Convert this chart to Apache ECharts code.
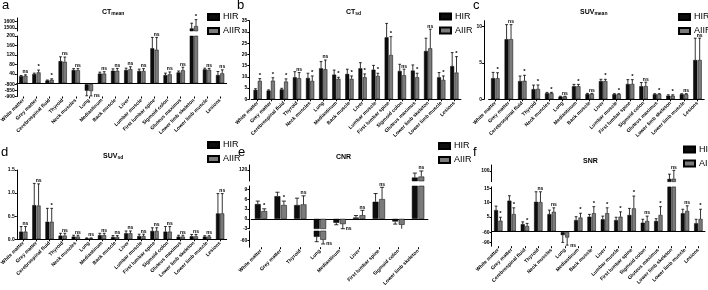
<!DOCTYPE html>
<html>
<head>
<meta charset="utf-8">
<script src="https://cdn.jsdelivr.net/npm/echarts@6.0.0/dist/echarts.min.js"></script>
<style>
  html, body { margin: 0; padding: 0; background: #fff; }
  #chart { width: 708px; height: 290px; }
</style>
</head>
<body>
<div id="chart"></div>
<script>
// categories
const organs = ['White matter', 'Grey matter', 'Cerebrospinal fluid', 'Thyroid', 'Neck muscles', 'Lung',
  'Mediastinum', 'Back muscle', 'Liver', 'Lumbar muscle', 'First lumbar spine', 'Sigmoid colon',
  'Gluteus maximus', 'Lower limb skeleton', 'Lower limb muscle', 'Lesions'];
const cnrOrgans = ['White matter', 'Grey matter', 'Thyroid', 'Lung', 'Mediastinum', 'Liver',
  'First lumbar spine', 'Sigmoid colon', 'Lower limb skeleton'];

// a - CT mean
const ctMeanHIR = [30, 39, 12, 94, 56, -852, 41, 53, 56, 52, 148, 35, 46, 1490, 59, 35];
const ctMeanHIRErr = [3, 4, 2, 18, 6, 42, 6, 8, 8, 8, 46, 8, 6, 80, 5, 15];
const ctMeanAIIR = [32, 46, 15, 91, 55, -855, 41, 53, 60, 52, 142, 38, 55, 1525, 57, 42];
const ctMeanAIIRErr = [4, 10, 4, 20, 7, 40, 8, 10, 10, 10, 52, 10, 13, 100, 6, 15];
const ctMeanSig = ['ns', '*', '*', 'ns', 'ns', 'ns', 'ns', 'ns', 'ns', 'ns', 'ns', 'ns', 'ns', '*', 'ns', 'ns'];

// b - CT sd
const ctSdHIR = [4.2, 3.9, 4.4, 9.8, 9.5, 13.8, 11.0, 11.3, 13.8, 13.2, 27.6, 12.6, 12.8, 21.5, 9.8, 14.8];
const ctSdHIRErr = [0.5, 0.3, 0.5, 2.5, 2.1, 3.0, 2.0, 2.1, 2.5, 1.9, 6.2, 3.0, 2.5, 5.7, 2.1, 6.0];
const ctSdAIIR = [8.2, 8.3, 7.9, 9.4, 8.2, 13.4, 9.1, 9.1, 9.8, 10.4, 19.7, 10.7, 9.8, 22.7, 8.6, 11.9];
const ctSdAIIRErr = [1.0, 1.3, 1.2, 2.5, 2.2, 4.1, 0.7, 1.3, 1.5, 1.2, 8.2, 2.7, 1.8, 8.5, 1.8, 7.1];
const ctSdSig = ['*', '*', '*', 'ns', '*', 'ns', '*', '*', '*', '*', '*', 'ns', '*', 'ns', '*', '*'];

// c - SUV mean
const suvMeanHIR = [2.9, 8.26, 2.5, 1.4, 0.83, 0.37, 1.8, 0.73, 2.5, 0.69, 2.1, 1.8, 0.69, 0.5, 0.69, 5.4];
const suvMeanHIRErr = [0.8, 2.0, 0.7, 0.55, 0.12, 0.05, 0.25, 0.08, 0.25, 0.08, 0.6, 0.5, 0.08, 0.12, 0.08, 3.0];
const suvMeanAIIR = [2.9, 8.26, 2.55, 1.42, 0.83, 0.37, 1.8, 0.73, 2.5, 0.69, 2.1, 1.8, 0.69, 0.5, 0.69, 5.4];
const suvMeanAIIRErr = [0.75, 2.0, 0.75, 0.55, 0.12, 0.05, 0.25, 0.08, 0.25, 0.08, 0.6, 0.55, 0.08, 0.12, 0.08, 3.0];
const suvMeanSig = ['*', 'ns', '*', '*', '*', 'ns', '*', 'ns', '*', '*', '*', 'ns', '*', '*', 'ns', 'ns'];

// d - SUV sd
const suvSdHIR = [0.166, 0.74, 0.38, 0.08, 0.058, 0.02, 0.09, 0.05, 0.13, 0.07, 0.18, 0.166, 0.058, 0.065, 0.058, 0.56];
const suvSdHIRErr = [0.11, 0.47, 0.29, 0.05, 0.03, 0.01, 0.04, 0.03, 0.05, 0.04, 0.07, 0.11, 0.03, 0.04, 0.02, 0.43];
const suvSdAIIR = [0.166, 0.73, 0.38, 0.08, 0.058, 0.02, 0.09, 0.05, 0.13, 0.07, 0.18, 0.166, 0.058, 0.065, 0.058, 0.56];
const suvSdAIIRErr = [0.11, 0.47, 0.29, 0.05, 0.03, 0.01, 0.04, 0.03, 0.05, 0.04, 0.07, 0.11, 0.03, 0.04, 0.02, 0.43];
const suvSdSig = ['ns', 'ns', '*', 'ns', 'ns', 'ns', 'ns', 'ns', 'ns', 'ns', 'ns', 'ns', 'ns', 'ns', 'ns', 'ns'];

// e - CNR
const cnrHIR = [4.5, 6.9, 4.2, -48, -1.2, 0.4, 5.2, -0.8, 65];
const cnrHIRErr = [0.9, 1.2, 2.1, 15, 0.6, 0.6, 2.5, 0.8, 32];
const cnrAIIR = [2.35, 4.2, 4.4, -57, -1.6, 1.1, 6.0, -1.8, 72];
const cnrAIIRErr = [0.7, 1.2, 2.6, 13, 1.4, 1.5, 3.6, 1.5, 40];
const cnrSig = ['*', '*', 'ns', 'ns', 'ns', 'ns', 'ns', 'ns', 'ns'];

// f - SNR
const snrHIR = [7.4, 10.7, 2.5, 10.3, 6.0, -68, 3.9, 5.1, 4.2, 3.9, 5.7, 3.0, 3.6, 52, 6.3, 2.8];
const snrHIRErr = [1.4, 1.7, 0.8, 3.5, 1.4, 21, 1.2, 0.8, 1.1, 1.0, 2.3, 1.2, 0.8, 28, 1.4, 1.4];
const snrAIIR = [3.7, 6.0, 1.85, 10.2, 6.8, -75, 4.8, 6.3, 6.3, 5.1, 8.0, 3.6, 5.7, 53, 7.1, 4.3];
const snrAIIRErr = [1.2, 2.2, 0.9, 3.6, 1.4, 22, 1.5, 2.3, 1.9, 1.7, 4.3, 1.7, 2.9, 50, 1.8, 3.4];
const snrSig = ['*', '*', '*', 'ns', 'ns', 'ns', '*', '*', '*', '*', '*', 'ns', '*', 'ns', 'ns', '*'];

// tick labels (broken axes get one list per segment)
const ctMeanTicksTop = [1500, 1600];
const ctMeanTicksMid = [40, 80, 120, 160, 200];
const ctMeanTicksNeg = [-800, -850, -900];
const ctSdTicks = [0, 5, 10, 15, 20, 25, 30, 35];
const suvMeanTicks = [0, 5, 10];
const suvSdTicks = [0, 0.5, 1, 1.5];
const cnrTicksTop = [90, 120, 150];
const cnrTicksMid = [-3, 0, 3, 6, 9];
const cnrTicksNeg = [-60];
const snrTicksTop = [75, 100, 125];
const snrTicksMid = [5, 10, 15];
const snrTicksNeg = [-60, -90];

const FONT = '"Liberation Sans", Arial, sans-serif';
const BAR_W = 0.3, BAR_GAP = 0.1;

const panels = [
  {
    letter: 'a', name: 'CT', sub: 'mean', cats: organs, left: 16.75, width: 209.9,
    hir: ctMeanHIR, hirErr: ctMeanHIRErr, aiir: ctMeanAIIR, aiirErr: ctMeanAIIRErr, sig: ctMeanSig,
    segments: [
      { min: 1450, max: 1650, top: 18, height: 13, ticks: ctMeanTicksTop },
      { min: 0, max: 200, top: 36, height: 47.3, ticks: ctMeanTicksMid, zeroLine: true },
      { min: -900, max: -800, top: 84.5, height: 12, ticks: ctMeanTicksNeg }
    ],
    legendPos: [207, 12.5], letterPos: [2, -1], titlePos: [102, 7]
  },
  {
    letter: 'b', name: 'CT', sub: 'sd', cats: organs, left: 251.1, width: 209.8, offset: 1.8,
    hir: ctSdHIR, hirErr: ctSdHIRErr, aiir: ctSdAIIR, aiirErr: ctSdAIIRErr, sig: ctSdSig,
    segments: [{ min: 0, max: 35, top: 20.7, height: 78.6, ticks: ctSdTicks, zeroLine: true }],
    legendPos: [439, 12], letterPos: [237, -1], titlePos: [346, 7]
  },
  {
    letter: 'c', name: 'SUV', sub: 'mean', cats: organs, left: 488.6, width: 215.6, offset: 4.5,
    hir: suvMeanHIR, hirErr: suvMeanHIRErr, aiir: suvMeanAIIR, aiirErr: suvMeanAIIRErr, sig: suvMeanSig,
    segments: [{ min: 0, max: 10.8, top: 20.7, height: 78.6, ticks: suvMeanTicks, zeroLine: true }],
    legendPos: [678, 12.5], letterPos: [473, -1], titlePos: [580, 7]
  },
  {
    letter: 'd', name: 'SUV', sub: 'sd', cats: organs, left: 16.75, width: 209.9,
    hir: suvSdHIR, hirErr: suvSdHIRErr, aiir: suvSdAIIR, aiirErr: suvSdAIIRErr, sig: suvSdSig,
    segments: [{ min: 0, max: 1.5, top: 170, height: 69.3, ticks: suvSdTicks, zeroLine: true }],
    fmt: v => v.toFixed(1),
    legendPos: [207, 140.5], letterPos: [1, 146], titlePos: [103, 151]
  },
  {
    letter: 'e', name: 'CNR', sub: '', cats: cnrOrgans, left: 251.2, width: 176.7, offset: 1.8,
    hir: cnrHIR, hirErr: cnrHIRErr, aiir: cnrAIIR, aiirErr: cnrAIIRErr, sig: cnrSig,
    segments: [
      { min: 40, max: 155, top: 165, height: 16, ticks: cnrTicksTop },
      { min: -3, max: 10, top: 186, height: 42.7, ticks: cnrTicksMid, zeroLine: true },
      { min: -80, max: -30, top: 231, height: 16.2, ticks: cnrTicksNeg }
    ],
    legendPos: [438, 141.5], letterPos: [238, 146], titlePos: [336, 152]
  },
  {
    letter: 'f', name: 'SNR', sub: '', cats: organs, left: 491.6, width: 213.4,
    hir: snrHIR, hirErr: snrHIRErr, aiir: snrAIIR, aiirErr: snrAIIRErr, sig: snrSig,
    segments: [
      { min: 35, max: 135, top: 165, height: 16.7, ticks: snrTicksTop },
      { min: 0, max: 15.5, top: 186.9, height: 44.4, ticks: snrTicksMid, zeroLine: true },
      { min: -100, max: -60, top: 232.3, height: 13.9, ticks: snrTicksNeg }
    ],
    legendPos: [683, 145], letterPos: [473, 146], titlePos: [583, 156]
  }
];

const option = {
  animation: false,
  backgroundColor: '#fff',
  legend: [], grid: [], xAxis: [], yAxis: [], series: [], graphic: []
};

function barSeries(name, g, data, color) {
  return {
    type: 'bar', name, xAxisIndex: g, yAxisIndex: g, data,
    barWidth: (BAR_W * 100) + '%', barGap: (BAR_GAP * 100) + '%',
    clip: true, silent: true,
    itemStyle: { color, borderColor: '#000', borderWidth: 0.5 }
  };
}

// error bars (one side, away from zero) + significance marks above the AIIR bar
function errorSeries(g, p) {
  return {
    type: 'custom', xAxisIndex: g, yAxisIndex: g, silent: true, z: 3,
    data: p.hir.map((v, i) => [i, v, p.hirErr[i], p.aiir[i], p.aiirErr[i]]),
    renderItem: (params, api) => {
      const r = params.coordSys;
      const top = r.y, bot = r.y + r.height;
      const i = api.value(0);
      const band = api.size([1, 0])[0];
      const w = band * BAR_W, off = w * (1 + BAR_GAP) / 2;
      const cx = api.coord([i, 0])[0];
      const kids = [];
      let endPt = null;
      [[api.value(1), api.value(2), -off], [api.value(3), api.value(4), off]].forEach(([v, e, dx], j) => {
        const end = v < 0 ? v - e : v + e;
        const x = cx + dx;
        const y1 = api.coord([i, v])[1], y2 = api.coord([i, end])[1];
        const a = Math.max(Math.min(y1, y2), top), b = Math.min(Math.max(y1, y2), bot);
        const st = { stroke: '#000', lineWidth: 0.8 };
        if (a < b) kids.push({ type: 'line', shape: { x1: x, y1: a, x2: x, y2: b }, style: st });
        if (y2 >= top - 0.5 && y2 <= bot + 0.5) {
          kids.push({ type: 'line', shape: { x1: x - w * 0.35, y1: y2, x2: x + w * 0.35, y2: y2 }, style: st });
        }
        if (j === 1) endPt = [x, y2, v < 0];
      });
      const s = p.sig[i];
      if (s && endPt[1] >= top - 0.5 && endPt[1] <= bot + 0.5) {
        const neg = endPt[2];
        kids.push({
          type: 'text',
          x: neg ? endPt[0] + 3 : endPt[0],
          y: neg ? endPt[1] : endPt[1] - 0.5,
          style: {
            text: s, fontSize: s === '*' ? 6 : 5, fontWeight: 'bold', fontFamily: FONT, fill: '#000',
            align: neg ? 'left' : 'center', verticalAlign: neg ? 'middle' : 'bottom'
          }
        });
      }
      return { type: 'group', children: kids };
    }
  };
}

panels.forEach(p => {
  p.segments.forEach((s, k) => {
    const g = option.grid.length;
    const last = k === p.segments.length - 1;
    option.grid.push({ left: p.left, width: p.width, top: s.top, height: s.height, outerBoundsMode: 'none' });
    option.xAxis.push({
      gridIndex: g, type: 'category', data: p.cats,
      axisLine: { show: !!s.zeroLine, onZero: true, lineStyle: { color: '#000', width: 1 } },
      axisTick: { show: last, alignWithLabel: true, length: 2, lineStyle: { color: '#000' } },
      axisLabel: {
        show: last, interval: 0, rotate: 45, fontSize: 5, fontWeight: 'bold',
        fontFamily: FONT, color: '#000', margin: 3
      },
      splitLine: { show: false }
    });
    option.yAxis.push({
      gridIndex: g, type: 'value', min: s.min, max: s.max, offset: p.offset || 0,
      axisLine: { show: true, lineStyle: { color: '#000', width: 1 } },
      axisTick: { show: true, length: 2, customValues: s.ticks, lineStyle: { color: '#000' } },
      axisLabel: {
        customValues: s.ticks, fontSize: 5, fontWeight: 'bold', fontFamily: FONT,
        color: '#000', margin: 2, formatter: p.fmt || (v => String(v))
      },
      splitLine: { show: false }
    });
    option.series.push(
      barSeries('HIR', g, p.hir, '#0d0d0d'),
      barSeries('AIIR', g, p.aiir, '#7b7b7b'),
      errorSeries(g, p)
    );
  });

  option.legend.push({
    data: ['HIR', 'AIIR'], orient: 'vertical', left: p.legendPos[0], top: p.legendPos[1],
    icon: 'rect', itemWidth: 11, itemHeight: 6, itemGap: 5, selectedMode: false, padding: 0,
    textStyle: { fontSize: 9, fontFamily: FONT, color: '#000', padding: [0, 0, 0, -1] }
  });
  option.graphic.push({
    type: 'text', x: p.letterPos[0], y: p.letterPos[1], silent: true,
    style: { text: p.letter, fontSize: 13, fontFamily: FONT, fill: '#000', verticalAlign: 'top' }
  });
  option.graphic.push({
    type: 'text', x: p.titlePos[0], y: p.titlePos[1], silent: true,
    style: {
      text: p.sub ? `{m|${p.name}}{s|${p.sub}}` : `{m|${p.name}}`,
      verticalAlign: 'top', fill: '#000',
      rich: {
        m: { fontSize: 7, fontWeight: 'bold', fontFamily: FONT, fill: '#000', lineHeight: 10 },
        s: { fontSize: 5, fontWeight: 'bold', fontFamily: FONT, fill: '#000', lineHeight: 10, padding: [4, 0, 0, 0] }
      }
    }
  });
});

const chart = echarts.init(document.getElementById('chart'), null, { renderer: 'canvas' });
chart.setOption(option);
window.addEventListener('resize', () => chart.resize());
</script>
</body>
</html>
